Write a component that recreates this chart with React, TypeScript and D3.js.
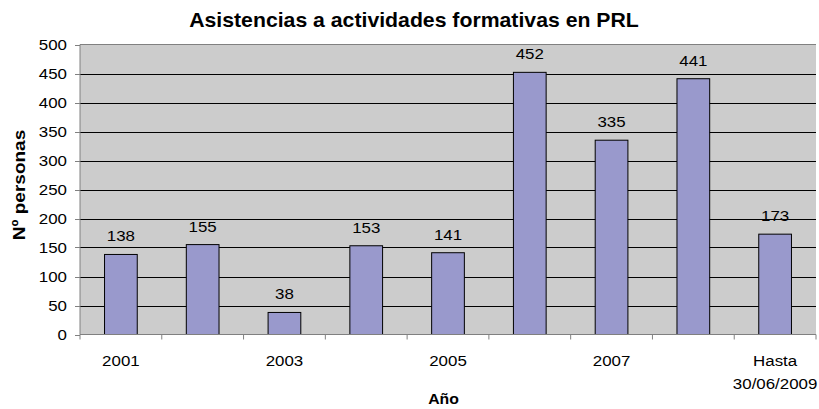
import React from "react";
import * as d3 from "d3";

const categories = ["2001", "2002", "2003", "2004", "2005", "2006", "2007", "2008", "Hasta 30/06/2009"];
const values = [138, 155, 38, 153, 141, 452, 335, 441, 173];
const yTicks = [0, 50, 100, 150, 200, 250, 300, 350, 400, 450, 500];
const shownLabels = ["2001", "2003", "2005", "2007", "Hasta 30/06/2009"];

const W = 819, H = 409;
const m = { left: 80, right: 3, top: 44.5, bottom: 74.5 };
const SX = 1.09;

function T(props: { x: number; y: number; size: number; bold?: boolean; anchor?: string; rotate?: number; sx?: number; children: React.ReactNode }) {
  const { x, y, size, bold, anchor = "middle", rotate = 0, sx = SX, children } = props;
  return (
    <text transform={`translate(${x},${y}) rotate(${rotate}) scale(${sx},1)`} textAnchor={anchor}
      fontSize={size} fontWeight={bold ? "bold" : "normal"} fill="#000">{children}</text>
  );
}

export default function App() {
  const x = d3.scaleBand<string>().domain(categories).range([m.left, W - m.right]).paddingInner(0).paddingOuter(0);
  const y = d3.scaleLinear().domain([0, 500]).range([H - m.bottom, m.top]);
  const bw = x.bandwidth() * 0.4;
  const font = "'Liberation Sans', Arial, sans-serif";
  return (
    <svg width={W} height={H} style={{ position: "absolute", left: 0, top: 0, fontFamily: font }}>
      <rect x={0} y={0} width={W} height={H} fill="#fff" />
      <rect x={m.left} y={y(500)} width={W - m.right - m.left} height={y(0) - y(500)} fill="#cccccc" />
      {yTicks.filter(t => t > 0 && t < 500).map(t => (
        <line key={t} x1={m.left} x2={W - m.right} y1={Math.round(y(t)) + 0.5} y2={Math.round(y(t)) + 0.5} stroke="#000" strokeWidth={1} />
      ))}
      <line x1={m.left} x2={W - m.right} y1={y(500)} y2={y(500)} stroke="#808080" strokeWidth={1} />
      {categories.map((c, i) => (
        <rect key={c} x={x(c)! + (x.bandwidth() - bw) / 2} y={y(values[i])} width={bw} height={y(0) - y(values[i])}
          fill="#9999cc" stroke="#000" strokeWidth={1} />
      ))}
      {categories.map((c, i) => (
        <T key={c} x={x(c)! + x.bandwidth() / 2} y={y(values[i]) - 13} size={15.5}>{values[i]}</T>
      ))}
      <line x1={m.left} x2={m.left} y1={y(500)} y2={y(0)} stroke="#808080" />
      <line x1={m.left} x2={W - m.right} y1={y(0)} y2={y(0)} stroke="#808080" />
      {yTicks.map(t => (
        <g key={t}>
          <line x1={m.left - 5} x2={m.left} y1={Math.round(y(t)) + 0.5} y2={Math.round(y(t)) + 0.5} stroke="#808080" />
          <T x={m.left - 13} y={y(t) + 5.5} size={15.5} anchor="end">{t}</T>
        </g>
      ))}
      {categories.map(c => (
        <line key={c} x1={x(c)!} x2={x(c)!} y1={y(0)} y2={y(0) + 5} stroke="#808080" />
      ))}
      <line x1={W - m.right} x2={W - m.right} y1={y(0)} y2={y(0) + 5} stroke="#808080" />
      {categories.filter(c => shownLabels.includes(c)).map(c => {
        const cx = x(c)! + x.bandwidth() / 2;
        const parts = c.startsWith("Hasta") ? ["Hasta", "30/06/2009"] : [c];
        return parts.map((p, j) => (
          <T key={c + j} x={cx} y={366 + j * 22.5} size={15.5}>{p}</T>
        ));
      })}
      <T x={414} y={26.7} size={19.5} bold>Asistencias a actividades formativas en PRL</T>
      <T x={443.5} y={404} size={14.5} bold>Año</T>
      <T x={25} y={185} size={17} bold rotate={-90} sx={1.12}>Nº personas</T>
    </svg>
  );
}
